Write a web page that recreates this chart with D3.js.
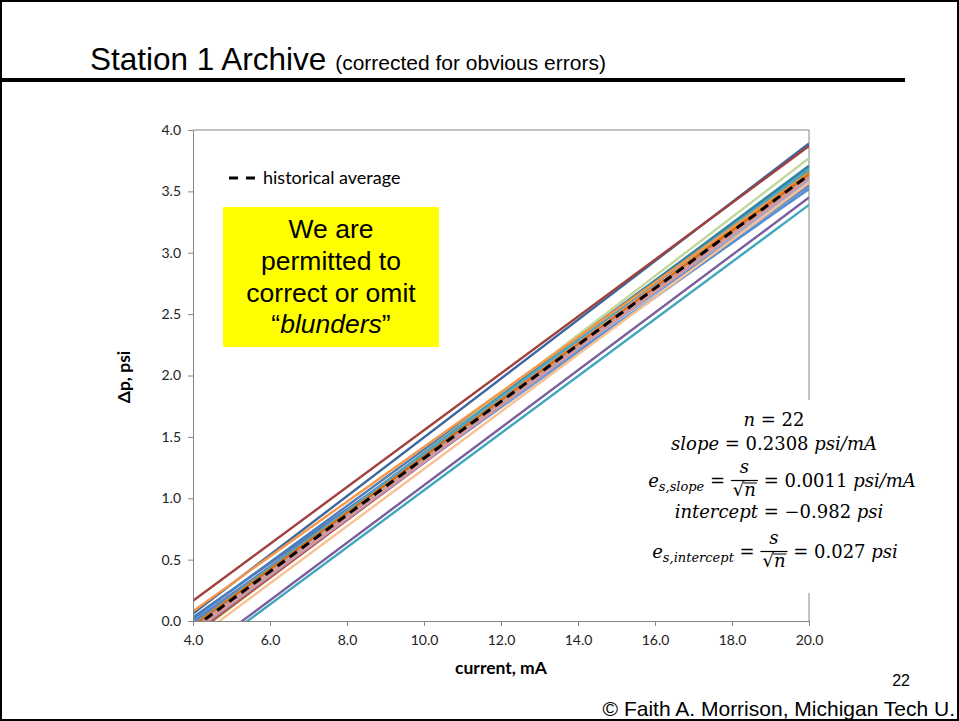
<!DOCTYPE html>
<html><head><meta charset="utf-8">
<script src="https://cdn.jsdelivr.net/npm/d3@7"></script>
<style>body{margin:0;background:#fff}svg{display:block}text{white-space:pre}</style>
</head><body>
<script>
// ---- data ----
const runColors = ["#4F81BD","#7C9CCB","#558ED5","#95B3D7","#4A7EBB","#3C679E","#A0413E","#C3D69B","#31859C","#7F63A1","#9BBB59","#77933C","#4BACC6","#C0504D","#A9A2CC","#B3A2C7","#D99694","#FAC090","#F79646","#E46C0A","#7B5E9E","#3FA6BF"];
const runAt4  = [0.03,-0.05,0.00,-0.02,0.02,0.06,0.165,-0.07,-0.04,-0.02,-0.10,-0.12,-0.03,-0.11,-0.09,-0.06,-0.08,-0.16,0.08,-0.04,-0.30,-0.33];
const runAt20 = [3.55,3.53,3.52,3.58,3.69,3.89,3.87,3.77,3.71,3.67,3.62,3.66,3.68,3.62,3.60,3.63,3.61,3.57,3.65,3.64,3.45,3.39];
const lineX = [4, 20];
const avgAt = [-0.059, 3.634];
const xTicks = [4,6,8,10,12,14,16,18,20];
const yTicks = [0,0.5,1,1.5,2,2.5,3,3.5,4];
const boxLines = ["We are","permitted to","correct or omit"];

const W = 959, H = 721;
const svg = d3.select("body").append("svg").attr("width", W).attr("height", H);
svg.append("rect").attr("x",1).attr("y",1).attr("width",W-2).attr("height",H-2).attr("fill","#fff").attr("stroke","#000").attr("stroke-width",2);

// title
const title = svg.append("text").attr("x",90).attr("y",70).attr("font-family","Liberation Sans, Arial, sans-serif").attr("fill","#000");
title.append("tspan").attr("font-size",31.5).text("Station 1 Archive ");
title.append("tspan").attr("font-size",21).text("(corrected for obvious errors)");
svg.append("line").attr("x1",0).attr("x2",905).attr("y1",80).attr("y2",80).attr("stroke","#000").attr("stroke-width",4);

const x = d3.scaleLinear().domain([4,20]).range([193,809]);
const y = d3.scaleLinear().domain([0,4]).range([621,130]);

svg.append("defs").append("clipPath").attr("id","plotclip").append("rect")
  .attr("x",x(4)).attr("y",y(4)).attr("width",x(20)-x(4)).attr("height",y(0)-y(4));

// plot border top/right
svg.append("path").attr("d",`M${x(4)},${y(4)}H${x(20)}V${y(0)}`).attr("fill","none").attr("stroke","#868686").attr("stroke-width",1);

const lines = svg.append("g").attr("clip-path","url(#plotclip)");
const lineGen = d3.line().x(d=>x(d[0])).y(d=>y(d[1]));
runAt4.forEach((v,i)=>{
  lines.append("path").attr("d", lineGen([[lineX[0],v],[lineX[1],runAt20[i]]]))
    .attr("fill","none").attr("stroke",runColors[i]).attr("stroke-width",2.4);
});
lines.append("path").attr("d", lineGen([[lineX[0],avgAt[0]],[lineX[1],avgAt[1]]]))
  .attr("fill","none").attr("stroke","#000").attr("stroke-width",3).attr("stroke-dasharray","9,6");

// axes
const tickFont = "Lato, Carlito, sans-serif";
const gy = svg.append("g").attr("transform",`translate(${x(4)},0)`)
  .call(d3.axisLeft(y).tickValues(yTicks).tickFormat(d3.format(".1f")).tickSize(5).tickSizeOuter(0).tickPadding(7));
const gx = svg.append("g").attr("transform",`translate(0,${y(0)})`)
  .call(d3.axisBottom(x).tickValues(xTicks).tickFormat(d3.format(".1f")).tickSize(5).tickSizeOuter(0).tickPadding(9));
[gx,gy].forEach(g=>{
  g.selectAll("path,line").attr("stroke","#868686");
  g.selectAll("text").attr("font-family",tickFont).attr("font-size",14).attr("fill","#222");
});

svg.append("text").attr("x",501).attr("y",674).attr("text-anchor","middle")
  .attr("font-family",tickFont).attr("font-weight","bold").attr("font-size",17.5).text("current, mA");
svg.append("text").attr("transform","translate(130,377) rotate(-90)").attr("text-anchor","middle")
  .attr("font-family",tickFont).attr("font-weight","bold").attr("font-size",17.5).text("Δp, psi");

// legend
svg.append("line").attr("x1",229).attr("x2",255).attr("y1",178).attr("y2",178)
  .attr("stroke","#000").attr("stroke-width",3).attr("stroke-dasharray","9,8");
svg.append("text").attr("x",263).attr("y",184).attr("font-family",tickFont).attr("font-size",18).text("historical average");

// yellow box
svg.append("rect").attr("x",223).attr("y",207).attr("width",216).attr("height",140).attr("fill","#FFFF00");
const boxY = [238,270,302];
boxLines.forEach((t,i)=>{
  svg.append("text").attr("x",331).attr("y",boxY[i]).attr("text-anchor","middle")
    .attr("font-family","Liberation Sans, Arial, sans-serif").attr("font-size",26.5).text(t);
});
const bl = svg.append("text").attr("x",331).attr("y",333).attr("text-anchor","middle")
  .attr("font-family","Liberation Sans, Arial, sans-serif").attr("font-size",26.5);
bl.append("tspan").text("\u201C");
bl.append("tspan").attr("font-style","italic").text("blunders");
bl.append("tspan").text("\u201D");

// equations
svg.append("rect").attr("x",640).attr("y",400).attr("width",285).attr("height",193).attr("fill","#fff");
const mathFont = "DejaVu Serif, serif";
const FS = 18;
function eq(cx, B, pieces){
  const g = svg.append("g");
  let cur = 0;
  pieces.forEach(p=>{
    if(p.frac){
      const a = g.append("text").attr("y",B-14).attr("font-family",mathFont).attr("font-size",FS).attr("font-style","italic").text("s");
      const bden = g.append("text").attr("y",B+9).attr("font-family",mathFont).attr("font-size",FS);
      bden.append("tspan").text("\u221A");
      bden.append("tspan").attr("font-style","italic").text("n");
      const wa = a.node().getComputedTextLength(), wb = bden.node().getComputedTextLength();
      const w = Math.max(wa,wb)+4;
      a.attr("x",cur+(w-wa)/2);
      bden.attr("x",cur+(w-wb)/2);
      const sq = bden.select("tspan").node().getComputedTextLength();
      g.append("line").attr("x1",cur+(w-wb)/2+sq-1).attr("x2",cur+(w+wb)/2+1).attr("y1",B-4).attr("y2",B-4).attr("stroke","#000").attr("stroke-width",1);
      g.append("line").attr("x1",cur).attr("x2",cur+w).attr("y1",B-6.5).attr("y2",B-6.5).attr("stroke","#000").attr("stroke-width",1.2);
      cur += w;
    } else {
      const t = g.append("text").attr("x",cur).attr("y",B+(p.sub?4:0)).attr("font-family",mathFont)
        .attr("font-size",p.sub?13:FS).attr("font-style",p.it?"italic":"normal").text(p.t);
      cur += t.node().getComputedTextLength();
    }
  });
  g.attr("transform",`translate(${cx-cur/2},0)`);
}
eq(774,426,[{t:"n",it:1},{t:" = 22"}]);
eq(774,450,[{t:"slope",it:1},{t:" = 0.2308 "},{t:"psi/mA",it:1}]);
eq(782,487,[{t:"e",it:1},{t:"s,slope",it:1,sub:1},{t:" = "},{frac:1},{t:" = 0.0011 "},{t:"psi/mA",it:1}]);
eq(779,518,[{t:"intercept",it:1},{t:" = \u22120.982 "},{t:"psi",it:1}]);
eq(775,558,[{t:"e",it:1},{t:"s,intercept",it:1,sub:1},{t:" = "},{frac:1},{t:" = 0.027 "},{t:"psi",it:1}]);

// footer
svg.append("text").attr("x",910).attr("y",686).attr("text-anchor","end").attr("font-family","Liberation Sans, Arial, sans-serif").attr("font-size",16).text("22");
svg.append("text").attr("x",955).attr("y",716).attr("text-anchor","end").attr("font-family","Liberation Sans, Arial, sans-serif").attr("font-size",21).text("\u00A9 Faith A. Morrison, Michigan Tech U.");
</script>
</body></html>
